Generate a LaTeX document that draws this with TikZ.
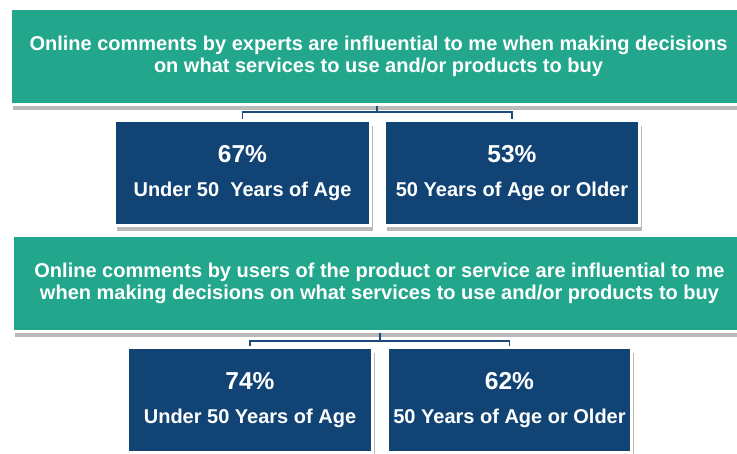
\documentclass[tikz,border=0pt]{standalone}
\usepackage{fontspec}
\setmainfont{Liberation Sans}
\usetikzlibrary{shadows}
\definecolor{StmtGreen}{HTML}{22A78C}
\definecolor{AgeBlue}{HTML}{114474}
\definecolor{LinkBlue}{HTML}{1B4A7C}

\tikzset{
    boxshadow/.style={drop shadow={shadow xshift=2.5pt, shadow yshift=-6pt, fill=black!60, opacity=.45}},
    stmt/.style={rectangle, fill=StmtGreen, draw=white, line width=3pt, text=white,
        align=center, inner sep=0pt, minimum height=96pt,
        font=\fontsize{20}{22}\selectfont\bfseries, boxshadow},
    agebox/.style={rectangle, fill=AgeBlue, draw=white, line width=3pt, text=white,
        align=center, inner sep=0pt, minimum height=105pt,
        font=\fontsize{20}{34}\selectfont\bfseries, boxshadow},
    link/.style={draw=LinkBlue, line width=1.6pt}
}
\newcommand{\pct}[1]{{\fontsize{24.5}{34}\selectfont #1}}

\begin{document}
\begin{tikzpicture}[x=1pt, y=-1pt]
    \useasboundingbox (0,0) rectangle (737,454);
    \clip (0,0) rectangle (737,454);

    % experts
    \node[stmt, minimum width=736pt] (expert) at (378.5,56.5)
        {Online comments by experts are influential to me when making decisions\\
         on what services to use and/or products to buy};
    \node[agebox, minimum width=256pt] (expYoung) at (242.5,173)
        {\pct{67\%}\\Under 50\ \ Years of Age};
    \node[agebox, minimum width=255pt] (expOld) at (512,173)
        {\pct{53\%}\\50 Years of Age or Older};

    % users
    \node[stmt, minimum width=734pt] (user) at (379.5,283.5)
        {Online comments by users of the product or service are influential to me\\
         when making decisions on what services to use and/or products to buy};
    \node[agebox, minimum width=245pt] (usrYoung) at (250,400)
        {\pct{74\%}\\Under 50 Years of Age};
    \node[agebox, minimum width=244pt] (usrOld) at (509.5,400)
        {\pct{62\%}\\50 Years of Age or Older};

    % connectors
    \coordinate (expFork) at (377,112);
    \coordinate (usrFork) at (380,341);
    \draw[link] (expFork |- expert.south) -- (expFork);
    \draw[link] (expYoung.north) |- (expFork) -| (expOld.north);
    \draw[link] (usrFork |- user.south) -- (usrFork);
    \draw[link] (usrYoung.north) |- (usrFork) -| (usrOld.north);
\end{tikzpicture}
\end{document}
